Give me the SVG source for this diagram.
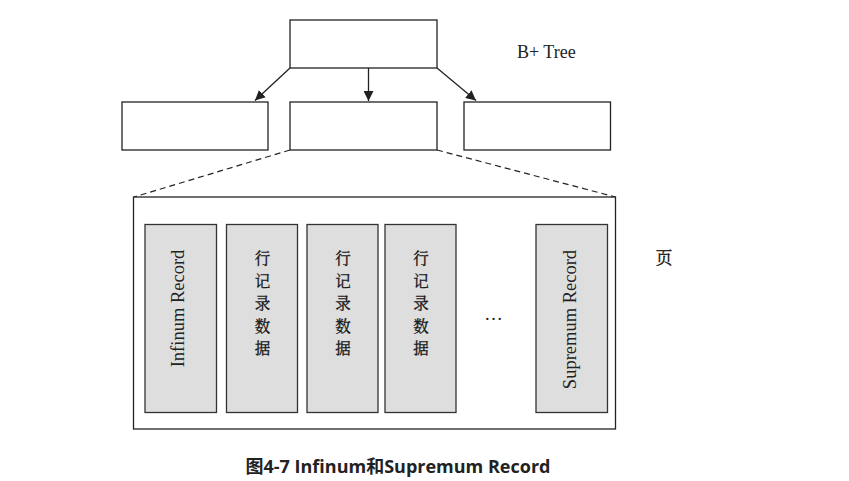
<svg xmlns="http://www.w3.org/2000/svg" width="849" height="481" viewBox="0 0 849 481">
<defs>
<style>
.box{fill:#fff;stroke:#222;stroke-width:1.3}
.rec{fill:#dedede;stroke:#333;stroke-width:1.3}
.edge{fill:none;stroke:#222;stroke-width:1.3}
.dash{fill:none;stroke:#222;stroke-width:1.2;stroke-dasharray:6 4}
.t{font-family:"Liberation Serif","Noto Sans CJK SC",serif;font-size:18.5px;fill:#222}
.cj{font-family:"Noto Serif CJK SC","Noto Sans CJK SC",serif;font-size:15.5px;fill:#111;stroke:#111;stroke-width:0.3}
.cap{font-family:"Open Sans","Noto Sans CJK SC",sans-serif;font-size:18px;font-weight:bold;fill:#222}
</style>
<marker id="arr" viewBox="0 0 10 10" refX="10" refY="5" markerWidth="10" markerHeight="10" markerUnits="userSpaceOnUse" orient="auto">
<path d="M0,0 L10,5 L0,10 Z" fill="#222"/>
</marker>
</defs>
<rect width="849" height="481" fill="#fff"/>
<g id="connectors">
<line class="edge" x1="290" y1="68" x2="255" y2="100.5" marker-end="url(#arr)"/>
<line class="edge" x1="368.5" y1="68" x2="368.5" y2="101" marker-end="url(#arr)"/>
<line class="edge" x1="437" y1="68" x2="476" y2="100.5" marker-end="url(#arr)"/>
<line class="dash" x1="290" y1="150" x2="134" y2="197"/>
<line class="dash" x1="437" y1="150" x2="615.5" y2="197"/>
</g>
<g id="root"><rect class="box" x="290" y="20" width="147" height="48"/></g>
<g id="leaf-left"><rect class="box" x="122" y="102" width="146" height="48"/></g>
<g id="leaf-mid"><rect class="box" x="290" y="102" width="147" height="48"/></g>
<g id="leaf-right"><rect class="box" x="464" y="102" width="146.5" height="48"/></g>
<g id="btree-label"><text class="t" x="517" y="58" style="font-size:18px">B+ Tree</text></g>
<g id="page">
<rect class="box" x="133.5" y="197" width="482" height="232"/>
</g>
<g id="page-label"><text class="cj" x="664" y="264" text-anchor="middle" style="font-size:17px">页</text></g>
<g id="infinum">
<rect class="rec" x="145" y="224.5" width="71.5" height="188"/>
<text class="t" transform="translate(184,308.5) rotate(-90)" text-anchor="middle">Infinum Record</text>
</g>
<g id="row1">
<rect class="rec" x="226.5" y="224.5" width="71" height="188"/>
<text class="cj" x="262.5" y="264" text-anchor="middle">行</text>
<text class="cj" x="262.5" y="286.5" text-anchor="middle">记</text>
<text class="cj" x="262.5" y="309" text-anchor="middle">录</text>
<text class="cj" x="262.5" y="331.5" text-anchor="middle">数</text>
<text class="cj" x="262.5" y="354" text-anchor="middle">据</text>
</g>
<g id="row2">
<rect class="rec" x="307" y="224.5" width="71" height="188"/>
<text class="cj" x="343" y="264" text-anchor="middle">行</text>
<text class="cj" x="343" y="286.5" text-anchor="middle">记</text>
<text class="cj" x="343" y="309" text-anchor="middle">录</text>
<text class="cj" x="343" y="331.5" text-anchor="middle">数</text>
<text class="cj" x="343" y="354" text-anchor="middle">据</text>
</g>
<g id="row3">
<rect class="rec" x="385" y="224.5" width="71" height="188"/>
<text class="cj" x="421" y="264" text-anchor="middle">行</text>
<text class="cj" x="421" y="286.5" text-anchor="middle">记</text>
<text class="cj" x="421" y="309" text-anchor="middle">录</text>
<text class="cj" x="421" y="331.5" text-anchor="middle">数</text>
<text class="cj" x="421" y="354" text-anchor="middle">据</text>
</g>
<g id="ellipsis"><text class="t" x="493.5" y="320" text-anchor="middle">…</text></g>
<g id="supremum">
<rect class="rec" x="536" y="224.5" width="71.5" height="188"/>
<text class="t" transform="translate(576,319.5) rotate(-90)" text-anchor="middle">Supremum Record</text>
</g>
<g id="caption"><text class="cap" x="398" y="473" text-anchor="middle">图4-7 Infinum和Supremum Record</text></g>
</svg>
